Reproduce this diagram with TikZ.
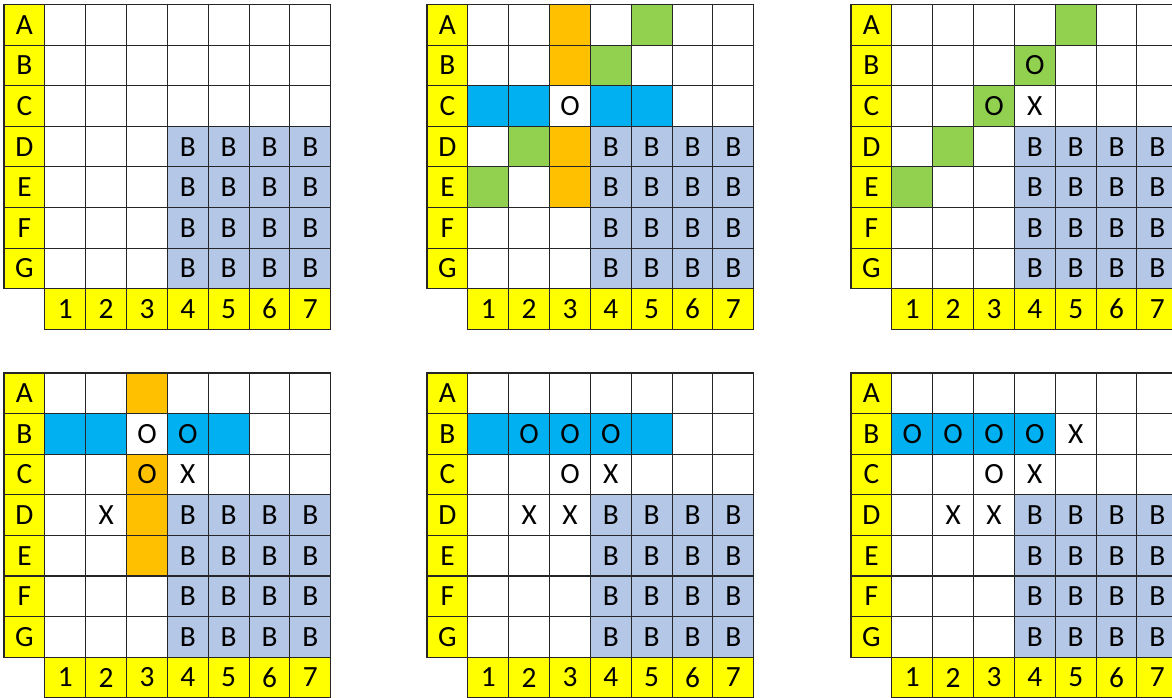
\documentclass[tikz,border=0pt]{standalone}
\usepackage{fontspec}
\setmainfont{Carlito}
\usetikzlibrary{positioning}
\definecolor{lblyellow}{RGB}{255,255,0}
\definecolor{bblue}{RGB}{180,199,231}
\definecolor{rowcyan}{RGB}{0,176,240}
\definecolor{colorange}{RGB}{255,192,0}
\definecolor{diaggreen}{RGB}{146,208,80}

% cell pitch in px
\newcommand{\csx}{40.85}
\newcommand{\csy}{40.6}

% one board: name, left, top
\newcommand{\board}[3]{%
  \begin{scope}[shift={(#2,#3)}]
    \foreach \r [count=\i from 0] in {A,B,C,D,E,F,G} {
      \node[lab] (#1-\i-0) at (\csx/2, {\i*\csy+\csy/2}) {\r};
      \foreach \j in {1,...,7}
        \node[cell] (#1-\i-\j) at ({\j*\csx+\csx/2}, {\i*\csy+\csy/2}) {};
    }
    \foreach \j in {1,...,7}
      \node[lab] (#1-7-\j) at ({\j*\csx+\csx/2}, {7*\csy+\csy/2}) {\j};
    \foreach \i in {3,...,6}
      \foreach \j in {4,...,7}
        \node[bcell] (#1-\i-\j) at ({\j*\csx+\csx/2}, {\i*\csy+\csy/2}) {B};
  \end{scope}}

% repaint one cell: board, row, col, style, text
\newcommand{\setcell}[5]{\node[#4] (#1-#2-#3) at (#1-#2-#3) {#5};}

\begin{document}
\begin{tikzpicture}[
  x=0.75pt, y=-0.75pt,
  cell/.style={rectangle, draw=black!85, line width=0.8pt, fill=white,
               minimum width=30.64pt, minimum height=30.45pt, inner sep=0pt,
               font=\fontsize{22pt}{22pt}\selectfont},
  lab/.style={cell, fill=lblyellow},
  bcell/.style={cell, fill=bblue},
  cyancell/.style={cell, fill=rowcyan},
  orngcell/.style={cell, fill=colorange},
  grncell/.style={cell, fill=diaggreen}
]
\useasboundingbox (0,0) rectangle (1172,698);
\clip (0,0) rectangle (1172,698);

\board{g1}{4}{4.5}
\board{g2}{427}{4.5}
\board{g3}{851}{4.5}
\board{g4}{4}{373}
\board{g5}{427}{373}
\board{g6}{851}{373}

% board 2
\foreach \i in {0,1,3,4} {\setcell{g2}{\i}{3}{orngcell}{}}
\foreach \j in {1,2,4,5} {\setcell{g2}{2}{\j}{cyancell}{}}
\setcell{g2}{2}{3}{cell}{O}
\setcell{g2}{0}{5}{grncell}{}
\setcell{g2}{1}{4}{grncell}{}
\setcell{g2}{3}{2}{grncell}{}
\setcell{g2}{4}{1}{grncell}{}

% board 3
\setcell{g3}{0}{5}{grncell}{}
\setcell{g3}{1}{4}{grncell}{O}
\setcell{g3}{2}{3}{grncell}{O}
\setcell{g3}{3}{2}{grncell}{}
\setcell{g3}{4}{1}{grncell}{}
\setcell{g3}{2}{4}{cell}{X}

% board 4
\foreach \i in {0,3,4} {\setcell{g4}{\i}{3}{orngcell}{}}
\setcell{g4}{2}{3}{orngcell}{O}
\foreach \j in {1,2,5} {\setcell{g4}{1}{\j}{cyancell}{}}
\setcell{g4}{1}{4}{cyancell}{O}
\setcell{g4}{1}{3}{cell}{O}
\setcell{g4}{2}{4}{cell}{X}
\setcell{g4}{3}{2}{cell}{X}

% board 5
\foreach \j in {1,5} {\setcell{g5}{1}{\j}{cyancell}{}}
\foreach \j in {2,3,4} {\setcell{g5}{1}{\j}{cyancell}{O}}
\setcell{g5}{2}{3}{cell}{O}
\setcell{g5}{2}{4}{cell}{X}
\setcell{g5}{3}{2}{cell}{X}
\setcell{g5}{3}{3}{cell}{X}

% board 6
\foreach \j in {1,...,4} {\setcell{g6}{1}{\j}{cyancell}{O}}
\setcell{g6}{1}{5}{cell}{X}
\setcell{g6}{2}{3}{cell}{O}
\setcell{g6}{2}{4}{cell}{X}
\setcell{g6}{3}{2}{cell}{X}
\setcell{g6}{3}{3}{cell}{X}
\end{tikzpicture}
\end{document}
